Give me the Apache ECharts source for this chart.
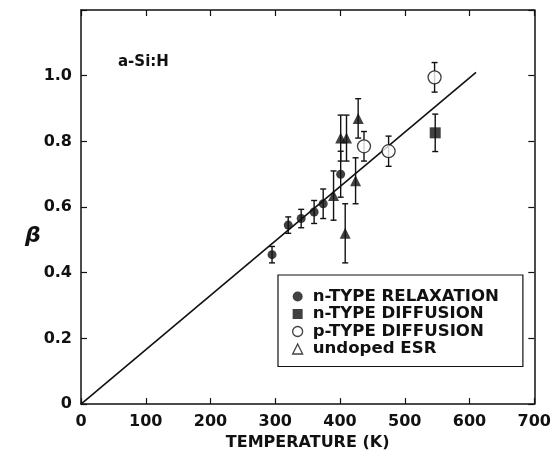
<!DOCTYPE html>
<html>
<head>
<meta charset="utf-8">
<script src="https://cdn.jsdelivr.net/npm/echarts@6/dist/echarts.min.js"></script>
<style>
  html, body {margin: 0; padding: 0; background: #fff;}
  #chart {width: 554px; height: 456px;}
</style>
</head>
<body>
<div id="chart"></div>
<script>
// fitted straight line through the origin
const fitLine = [[0, 0], [610, 1.01]];

// n-TYPE RELAXATION (filled circles)
const relaxT = [295, 320, 340, 360, 374, 401];
const relaxBeta = [0.455, 0.545, 0.565, 0.585, 0.61, 0.70];
const relaxErr = [0.025, 0.025, 0.028, 0.035, 0.045, 0.07];

// n-TYPE DIFFUSION (filled square)
const nDiffT = [547];
const nDiffBeta = [0.826];
const nDiffErr = [0.057];

// p-TYPE DIFFUSION (open circles)
const pDiffT = [437, 475, 546];
const pDiffBeta = [0.785, 0.77, 0.995];
const pDiffErr = [0.045, 0.046, 0.045];

// undoped ESR (triangles)
const esrT = [390, 401, 410, 408, 424, 428];
const esrBeta = [0.635, 0.81, 0.81, 0.52, 0.68, 0.87];
const esrErr = [0.075, 0.07, 0.07, 0.09, 0.07, 0.06];

const xTicks = [0, 100, 200, 300, 400, 500, 600, 700];
const yTicks = [0, 0.2, 0.4, 0.6, 0.8, 1.0];

const ink = '#111';
const font = 'DejaVu Sans, Verdana, sans-serif';

const pts = (t, b) => t.map((v, i) => [v, b[i]]);
const bars = (t, b, e) => t.map((v, i) => [v, b[i] - e[i], b[i] + e[i]]);

function errRender(params, api) {
  const lo = api.coord([api.value(0), api.value(1)]);
  const hi = api.coord([api.value(0), api.value(2)]);
  const st = {stroke: ink, lineWidth: 1.4};
  return {
    type: 'group',
    children: [
      {type: 'line', shape: {x1: lo[0], y1: lo[1], x2: hi[0], y2: hi[1]}, style: st},
      {type: 'line', shape: {x1: lo[0] - 3, y1: lo[1], x2: lo[0] + 3, y2: lo[1]}, style: st},
      {type: 'line', shape: {x1: hi[0] - 3, y1: hi[1], x2: hi[0] + 3, y2: hi[1]}, style: st}
    ]
  };
}

const errSeries = (data) => ({
  type: 'custom',
  renderItem: errRender,
  data: data,
  z: 2,
  silent: true,
  encode: {x: 0, y: [1, 2]}
});

const axisLine = {show: true, onZero: false, lineStyle: {color: ink, width: 1.5}};
const tickIn = () => ({show: true, inside: true, length: 6, lineStyle: {color: ink, width: 1.2}});
const labelStyle = {color: ink, fontFamily: font, fontWeight: 'bold', fontSize: 16};

const chart = echarts.init(document.getElementById('chart'), null, {renderer: 'canvas'});
chart.setOption({
  animation: false,
  backgroundColor: '#fff',
  grid: {left: 81, right: 19, top: 10, bottom: 51},
  xAxis: [
    {
      type: 'value', min: 0, max: 700, interval: 100, position: 'bottom',
      name: 'TEMPERATURE (K)', nameLocation: 'middle', nameGap: 28,
      nameTextStyle: {color: ink, fontFamily: font, fontWeight: 'bold', fontSize: 16},
      axisLine: axisLine, axisTick: tickIn(), splitLine: {show: false},
      axisLabel: Object.assign({margin: 10, formatter: v => xTicks.includes(v) ? String(v) : ''}, labelStyle)
    },
    {
      type: 'value', min: 0, max: 700, interval: 100, position: 'top',
      axisLine: axisLine, axisTick: tickIn(), splitLine: {show: false},
      axisLabel: {show: false}
    }
  ],
  yAxis: [
    {
      type: 'value', min: 0, max: 1.2, interval: 0.2, position: 'left',
      axisLine: axisLine, axisTick: tickIn(), splitLine: {show: false},
      axisLabel: Object.assign({margin: 9, formatter: v => {
        const t = yTicks.find(k => Math.abs(k - v) < 1e-6);
        if (t === undefined) return '';
        return t === 0 ? '0' : t.toFixed(1);
      }}, labelStyle)
    },
    {
      type: 'value', min: 0, max: 1.2, interval: 0.2, position: 'right',
      axisLine: axisLine, axisTick: tickIn(), splitLine: {show: false},
      axisLabel: {show: false}
    }
  ],
  legend: {
    orient: 'vertical',
    left: 278, top: 275,
    padding: [13, 24, 9, 14],
    itemGap: 0.5,
    itemWidth: 10, itemHeight: 10,
    borderColor: ink, borderWidth: 1.2, borderRadius: 0,
    backgroundColor: '#fff',
    selectedMode: false,
    textStyle: {color: ink, fontFamily: font, fontWeight: 'bold', fontSize: 16.6, lineHeight: 16, padding: [0, 0, 0, 5]},
    data: [
      {name: 'n-TYPE RELAXATION', icon: 'circle', itemStyle: {color: ink, borderWidth: 0}},
      {name: 'n-TYPE DIFFUSION', icon: 'rect', itemStyle: {color: ink, borderWidth: 0}},
      {name: 'p-TYPE DIFFUSION', icon: 'circle', itemStyle: {color: '#fff', borderColor: ink, borderWidth: 1.3}},
      {name: 'undoped ESR', icon: 'triangle', itemStyle: {color: '#fff', borderColor: ink, borderWidth: 1.3}}
    ]
  },
  graphic: [
    {type: 'text', left: 118, top: 55, style: {text: 'a-Si:H', fill: ink, font: 'bold 15px ' + font}},
    {type: 'text', left: 25, top: 225, style: {text: 'β', fill: ink, font: 'oblique bold 22px DejaVu Sans, sans-serif'}}
  ],
  series: [
    {
      type: 'line', data: fitLine, symbol: 'none', silent: true, z: 1,
      lineStyle: {color: ink, width: 1.6}
    },
    errSeries(bars(relaxT, relaxBeta, relaxErr)),
    errSeries(bars(nDiffT, nDiffBeta, nDiffErr)),
    errSeries(bars(pDiffT, pDiffBeta, pDiffErr)),
    errSeries(bars(esrT, esrBeta, esrErr)),
    {
      name: 'n-TYPE RELAXATION', type: 'scatter', data: pts(relaxT, relaxBeta), z: 5,
      symbol: 'circle', symbolSize: 9, itemStyle: {color: ink}
    },
    {
      name: 'n-TYPE DIFFUSION', type: 'scatter', data: pts(nDiffT, nDiffBeta), z: 5,
      symbol: 'rect', symbolSize: 11, itemStyle: {color: ink}
    },
    {
      name: 'p-TYPE DIFFUSION', type: 'scatter', data: pts(pDiffT, pDiffBeta), z: 5,
      symbol: 'circle', symbolSize: 13, itemStyle: {color: '#fff', borderColor: ink, borderWidth: 1.3}
    },
    {
      name: 'undoped ESR', type: 'scatter', data: pts(esrT, esrBeta), z: 5,
      symbol: 'triangle', symbolSize: 11, itemStyle: {color: ink}
    }
  ]
});
</script>
</body>
</html>
